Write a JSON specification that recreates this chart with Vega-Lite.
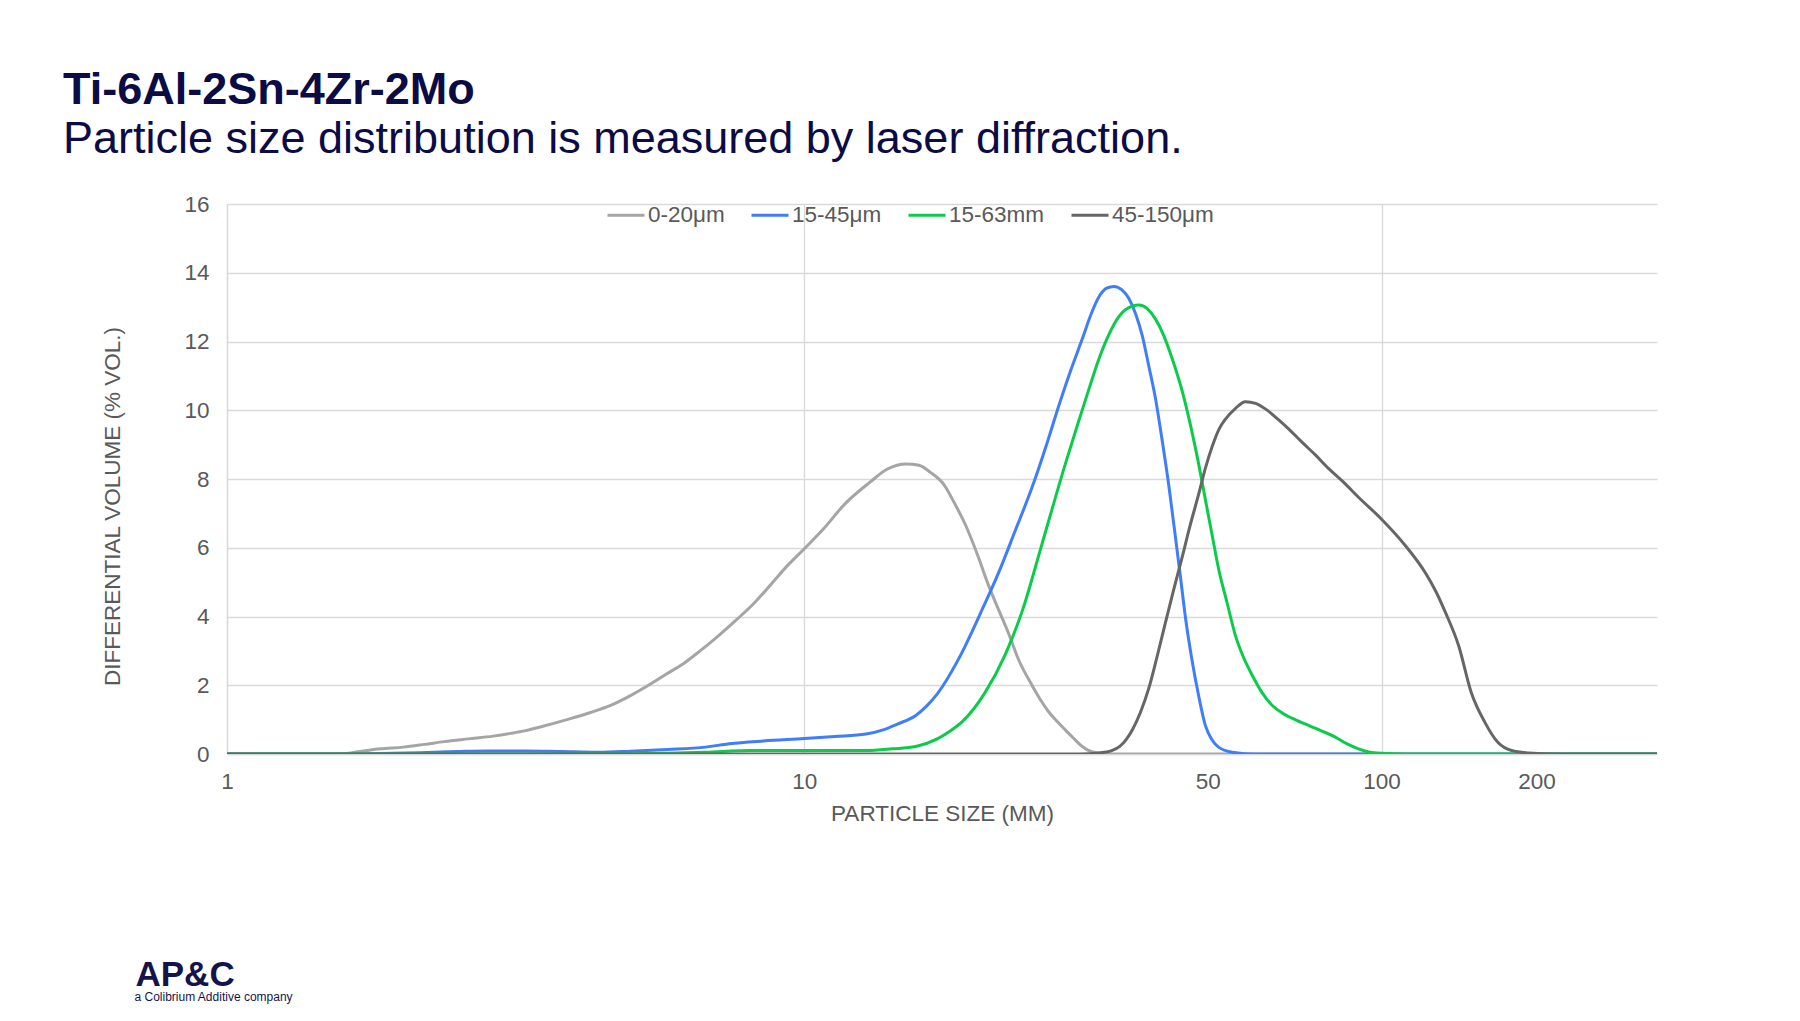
{
  "$schema": "https://vega.github.io/schema/vega-lite/v6.json",
  "autosize": {"type": "none"},
  "width": 1430,
  "height": 550,
  "padding": {"left": 227, "top": 204, "right": 143, "bottom": 267},
  "background": "white",
  "title": {
    "text": "Ti-6Al-2Sn-4Zr-2Mo",
    "subtitle": "Particle size distribution is measured by laser diffraction.",
    "anchor": "start",
    "frame": "group",
    "dx": -164,
    "offset": 31,
    "font": "Liberation Sans",
    "fontSize": 45,
    "fontWeight": "bold",
    "color": "#0B0B45",
    "subtitleFont": "Liberation Sans",
    "subtitleFontSize": 45,
    "subtitleFontWeight": "normal",
    "subtitleColor": "#0B0B45",
    "subtitlePadding": 4
  },
  "config": {
    "view": {"stroke": null},
    "font": "Liberation Sans",
    "axis": {
      "labelFont": "Liberation Sans",
      "titleFont": "Liberation Sans",
      "labelFontSize": 22.5,
      "titleFontSize": 22.5,
      "labelColor": "#595959",
      "titleColor": "#595959",
      "titleFontWeight": "normal",
      "gridColor": "#D9D9D9",
      "gridWidth": 1.3,
      "domainColor": "#D9D9D9",
      "domainWidth": 1.3,
      "ticks": false
    }
  },
  "data": {
    "values": [
      {"s": "0-20μm", "x": 1, "y": 0},
      {"s": "0-20μm", "x": 1.3, "y": 0},
      {"s": "0-20μm", "x": 1.55, "y": 0},
      {"s": "0-20μm", "x": 1.7, "y": 0.07},
      {"s": "0-20μm", "x": 1.84, "y": 0.15},
      {"s": "0-20μm", "x": 2.02, "y": 0.2},
      {"s": "0-20μm", "x": 2.2, "y": 0.28},
      {"s": "0-20μm", "x": 2.38, "y": 0.36},
      {"s": "0-20μm", "x": 2.62, "y": 0.44},
      {"s": "0-20μm", "x": 2.89, "y": 0.52},
      {"s": "0-20μm", "x": 3.1, "y": 0.6},
      {"s": "0-20μm", "x": 3.29, "y": 0.68},
      {"s": "0-20μm", "x": 3.55, "y": 0.82},
      {"s": "0-20μm", "x": 3.88, "y": 1.0},
      {"s": "0-20μm", "x": 4.25, "y": 1.2},
      {"s": "0-20μm", "x": 4.64, "y": 1.43},
      {"s": "0-20μm", "x": 5.0, "y": 1.7},
      {"s": "0-20μm", "x": 5.4, "y": 2.02},
      {"s": "0-20μm", "x": 5.8, "y": 2.35},
      {"s": "0-20μm", "x": 6.19, "y": 2.64},
      {"s": "0-20μm", "x": 6.6, "y": 3.0},
      {"s": "0-20μm", "x": 7.0, "y": 3.35},
      {"s": "0-20μm", "x": 7.66, "y": 3.93},
      {"s": "0-20μm", "x": 8.2, "y": 4.4},
      {"s": "0-20μm", "x": 8.7, "y": 4.88},
      {"s": "0-20μm", "x": 9.35, "y": 5.48},
      {"s": "0-20μm", "x": 10, "y": 5.97},
      {"s": "0-20μm", "x": 10.8, "y": 6.55},
      {"s": "0-20μm", "x": 11.75, "y": 7.27},
      {"s": "0-20μm", "x": 12.98, "y": 7.9},
      {"s": "0-20μm", "x": 13.93, "y": 8.29},
      {"s": "0-20μm", "x": 15.0, "y": 8.44},
      {"s": "0-20μm", "x": 15.8, "y": 8.4},
      {"s": "0-20μm", "x": 16.52, "y": 8.2},
      {"s": "0-20μm", "x": 17.5, "y": 7.81},
      {"s": "0-20μm", "x": 18.2, "y": 7.3},
      {"s": "0-20μm", "x": 19.05, "y": 6.64},
      {"s": "0-20μm", "x": 20.0, "y": 5.75},
      {"s": "0-20μm", "x": 20.75, "y": 5.0},
      {"s": "0-20μm", "x": 21.7, "y": 4.2},
      {"s": "0-20μm", "x": 22.6, "y": 3.5},
      {"s": "0-20μm", "x": 23.5, "y": 2.75},
      {"s": "0-20μm", "x": 24.8, "y": 2.0},
      {"s": "0-20μm", "x": 25.6, "y": 1.6},
      {"s": "0-20μm", "x": 26.5, "y": 1.23},
      {"s": "0-20μm", "x": 27.4, "y": 0.95},
      {"s": "0-20μm", "x": 28.4, "y": 0.68},
      {"s": "0-20μm", "x": 29.3, "y": 0.45},
      {"s": "0-20μm", "x": 30.3, "y": 0.22},
      {"s": "0-20μm", "x": 31.3, "y": 0.08},
      {"s": "0-20μm", "x": 32.4, "y": 0.03},
      {"s": "0-20μm", "x": 33.5, "y": 0},
      {"s": "0-20μm", "x": 40, "y": 0},
      {"s": "0-20μm", "x": 60, "y": 0},
      {"s": "0-20μm", "x": 100, "y": 0},
      {"s": "0-20μm", "x": 200, "y": 0},
      {"s": "0-20μm", "x": 300, "y": 0},

      {"s": "15-45μm", "x": 1, "y": 0},
      {"s": "15-45μm", "x": 1.5, "y": 0},
      {"s": "15-45μm", "x": 2.16, "y": 0.04},
      {"s": "15-45μm", "x": 2.5, "y": 0.07},
      {"s": "15-45μm", "x": 2.8, "y": 0.09},
      {"s": "15-45μm", "x": 3.3, "y": 0.09},
      {"s": "15-45μm", "x": 3.8, "y": 0.07},
      {"s": "15-45μm", "x": 4.4, "y": 0.05},
      {"s": "15-45μm", "x": 5.0, "y": 0.08},
      {"s": "15-45μm", "x": 5.8, "y": 0.13},
      {"s": "15-45μm", "x": 6.74, "y": 0.2},
      {"s": "15-45μm", "x": 7.43, "y": 0.3},
      {"s": "15-45μm", "x": 8.5, "y": 0.38},
      {"s": "15-45μm", "x": 10, "y": 0.45},
      {"s": "15-45μm", "x": 11.3, "y": 0.51},
      {"s": "15-45μm", "x": 12.79, "y": 0.58},
      {"s": "15-45μm", "x": 13.7, "y": 0.7},
      {"s": "15-45μm", "x": 14.5, "y": 0.87},
      {"s": "15-45μm", "x": 15.6, "y": 1.12},
      {"s": "15-45μm", "x": 16.3, "y": 1.4},
      {"s": "15-45μm", "x": 17.0, "y": 1.75},
      {"s": "15-45μm", "x": 18.5, "y": 2.76},
      {"s": "15-45μm", "x": 20.2, "y": 4.1},
      {"s": "15-45μm", "x": 21.8, "y": 5.35},
      {"s": "15-45μm", "x": 23.2, "y": 6.5},
      {"s": "15-45μm", "x": 24.8, "y": 7.75},
      {"s": "15-45μm", "x": 26.4, "y": 9.1},
      {"s": "15-45μm", "x": 27.6, "y": 10.13},
      {"s": "15-45μm", "x": 29.0, "y": 11.2},
      {"s": "15-45μm", "x": 30.3, "y": 12.07},
      {"s": "15-45μm", "x": 31.4, "y": 12.8},
      {"s": "15-45μm", "x": 32.4, "y": 13.3},
      {"s": "15-45μm", "x": 33.4, "y": 13.55},
      {"s": "15-45μm", "x": 34.4, "y": 13.6},
      {"s": "15-45μm", "x": 35.5, "y": 13.5},
      {"s": "15-45μm", "x": 36.5, "y": 13.25},
      {"s": "15-45μm", "x": 37.5, "y": 12.8},
      {"s": "15-45μm", "x": 38.5, "y": 12.17},
      {"s": "15-45μm", "x": 39.5, "y": 11.3},
      {"s": "15-45μm", "x": 40.6, "y": 10.33},
      {"s": "15-45μm", "x": 41.7, "y": 9.1},
      {"s": "15-45μm", "x": 42.8, "y": 7.81},
      {"s": "15-45μm", "x": 43.8, "y": 6.5},
      {"s": "15-45μm", "x": 44.8, "y": 5.2},
      {"s": "15-45μm", "x": 45.8, "y": 3.9},
      {"s": "15-45μm", "x": 46.9, "y": 2.78},
      {"s": "15-45μm", "x": 48.2, "y": 1.7},
      {"s": "15-45μm", "x": 49.5, "y": 0.84},
      {"s": "15-45μm", "x": 50.8, "y": 0.42},
      {"s": "15-45μm", "x": 52.2, "y": 0.2},
      {"s": "15-45μm", "x": 55.1, "y": 0.05},
      {"s": "15-45μm", "x": 58, "y": 0.01},
      {"s": "15-45μm", "x": 62, "y": 0},
      {"s": "15-45μm", "x": 100, "y": 0},
      {"s": "15-45μm", "x": 200, "y": 0},
      {"s": "15-45μm", "x": 300, "y": 0},

      {"s": "15-63mm", "x": 1, "y": 0},
      {"s": "15-63mm", "x": 3, "y": 0},
      {"s": "15-63mm", "x": 5, "y": 0.01},
      {"s": "15-63mm", "x": 6.74, "y": 0.05},
      {"s": "15-63mm", "x": 8.06, "y": 0.1},
      {"s": "15-63mm", "x": 10, "y": 0.1},
      {"s": "15-63mm", "x": 12.79, "y": 0.1},
      {"s": "15-63mm", "x": 14.2, "y": 0.15},
      {"s": "15-63mm", "x": 15.6, "y": 0.22},
      {"s": "15-63mm", "x": 17.0, "y": 0.44},
      {"s": "15-63mm", "x": 18.0, "y": 0.7},
      {"s": "15-63mm", "x": 18.8, "y": 0.95},
      {"s": "15-63mm", "x": 20.5, "y": 1.75},
      {"s": "15-63mm", "x": 22.3, "y": 2.9},
      {"s": "15-63mm", "x": 23.9, "y": 4.2},
      {"s": "15-63mm", "x": 25.8, "y": 6.1},
      {"s": "15-63mm", "x": 28.4, "y": 8.5},
      {"s": "15-63mm", "x": 29.9, "y": 9.7},
      {"s": "15-63mm", "x": 31.1, "y": 10.6},
      {"s": "15-63mm", "x": 32.4, "y": 11.5},
      {"s": "15-63mm", "x": 33.7, "y": 12.2},
      {"s": "15-63mm", "x": 35.0, "y": 12.7},
      {"s": "15-63mm", "x": 36.1, "y": 12.94},
      {"s": "15-63mm", "x": 38.0, "y": 13.06},
      {"s": "15-63mm", "x": 39.3, "y": 12.95},
      {"s": "15-63mm", "x": 40.6, "y": 12.65},
      {"s": "15-63mm", "x": 42.0, "y": 12.15},
      {"s": "15-63mm", "x": 43.4, "y": 11.49},
      {"s": "15-63mm", "x": 44.9, "y": 10.7},
      {"s": "15-63mm", "x": 46.4, "y": 9.75},
      {"s": "15-63mm", "x": 48.0, "y": 8.6},
      {"s": "15-63mm", "x": 49.5, "y": 7.42},
      {"s": "15-63mm", "x": 50.9, "y": 6.35},
      {"s": "15-63mm", "x": 52.2, "y": 5.39},
      {"s": "15-63mm", "x": 54.0, "y": 4.4},
      {"s": "15-63mm", "x": 55.8, "y": 3.46},
      {"s": "15-63mm", "x": 57.7, "y": 2.8},
      {"s": "15-63mm", "x": 59.7, "y": 2.29},
      {"s": "15-63mm", "x": 62.0, "y": 1.8},
      {"s": "15-63mm", "x": 64.6, "y": 1.42},
      {"s": "15-63mm", "x": 67.5, "y": 1.18},
      {"s": "15-63mm", "x": 70.8, "y": 1.0},
      {"s": "15-63mm", "x": 75, "y": 0.82},
      {"s": "15-63mm", "x": 79, "y": 0.66},
      {"s": "15-63mm", "x": 83.0, "y": 0.5},
      {"s": "15-63mm", "x": 87, "y": 0.3},
      {"s": "15-63mm", "x": 91.2, "y": 0.15},
      {"s": "15-63mm", "x": 95, "y": 0.06},
      {"s": "15-63mm", "x": 100, "y": 0.02},
      {"s": "15-63mm", "x": 110, "y": 0},
      {"s": "15-63mm", "x": 200, "y": 0},
      {"s": "15-63mm", "x": 300, "y": 0},

      {"s": "45-150μm", "x": 1, "y": 0},
      {"s": "45-150μm", "x": 10, "y": 0},
      {"s": "45-150μm", "x": 25, "y": 0},
      {"s": "45-150μm", "x": 30, "y": 0},
      {"s": "45-150μm", "x": 32.4, "y": 0.03},
      {"s": "45-150μm", "x": 34, "y": 0.09},
      {"s": "45-150μm", "x": 35.2, "y": 0.22},
      {"s": "45-150μm", "x": 36.1, "y": 0.42},
      {"s": "45-150μm", "x": 37.0, "y": 0.7},
      {"s": "45-150μm", "x": 38.2, "y": 1.2},
      {"s": "45-150μm", "x": 39.5, "y": 1.9},
      {"s": "45-150μm", "x": 40.8, "y": 2.8},
      {"s": "45-150μm", "x": 42.2, "y": 3.8},
      {"s": "45-150μm", "x": 43.6, "y": 4.75},
      {"s": "45-150μm", "x": 45.1, "y": 5.7},
      {"s": "45-150μm", "x": 46.6, "y": 6.65},
      {"s": "45-150μm", "x": 48.2, "y": 7.55},
      {"s": "45-150μm", "x": 49.5, "y": 8.3},
      {"s": "45-150μm", "x": 50.9, "y": 8.95},
      {"s": "45-150μm", "x": 52.3, "y": 9.45},
      {"s": "45-150μm", "x": 53.7, "y": 9.75},
      {"s": "45-150μm", "x": 55.8, "y": 10.05},
      {"s": "45-150μm", "x": 58.1, "y": 10.25},
      {"s": "45-150μm", "x": 60.5, "y": 10.2},
      {"s": "45-150μm", "x": 62.9, "y": 10.04},
      {"s": "45-150μm", "x": 65.5, "y": 9.8},
      {"s": "45-150μm", "x": 69.0, "y": 9.46},
      {"s": "45-150μm", "x": 72.5, "y": 9.1},
      {"s": "45-150μm", "x": 76.8, "y": 8.7},
      {"s": "45-150μm", "x": 81, "y": 8.3},
      {"s": "45-150μm", "x": 86, "y": 7.9},
      {"s": "45-150μm", "x": 91.2, "y": 7.47},
      {"s": "45-150μm", "x": 100, "y": 6.83},
      {"s": "45-150μm", "x": 110, "y": 6.06},
      {"s": "45-150μm", "x": 119, "y": 5.28},
      {"s": "45-150μm", "x": 124, "y": 4.75},
      {"s": "45-150μm", "x": 129, "y": 4.12},
      {"s": "45-150μm", "x": 136, "y": 3.15},
      {"s": "45-150μm", "x": 143, "y": 1.79},
      {"s": "45-150μm", "x": 151, "y": 0.92},
      {"s": "45-150μm", "x": 159, "y": 0.34},
      {"s": "45-150μm", "x": 168, "y": 0.1},
      {"s": "45-150μm", "x": 180, "y": 0.03},
      {"s": "45-150μm", "x": 200, "y": 0},
      {"s": "45-150μm", "x": 300, "y": 0}
    ]
  },
  "layer": [
    {
      "mark": {"type": "line", "interpolate": "monotone", "strokeWidth": 3, "strokeJoin": "round", "strokeCap": "round", "clip": true},
      "encoding": {
        "x": {
          "field": "x",
          "type": "quantitative",
          "scale": {"type": "log", "domain": [1, 300], "nice": false},
          "axis": {
            "title": "PARTICLE SIZE (MM)",
            "values": [1, 10, 50, 100, 200],
            "format": "d",
            "labelFlush": false,
            "labelPadding": 16,
            "titlePadding": 10,
            "labelAlign": {"condition": {"test": "datum.value == 200", "value": "right"}, "value": "center"},
            "gridOpacity": {"condition": {"test": "datum.value == 50 || datum.value == 200", "value": 0}, "value": 1}
          }
        },
        "y": {
          "field": "y",
          "type": "quantitative",
          "scale": {"domain": [0, 16], "nice": false},
          "axis": {
            "title": "DIFFERENTIAL VOLUME (% VOL.)",
            "values": [0, 2, 4, 6, 8, 10, 12, 14, 16],
            "labelPadding": 18,
            "titleX": -115,
            "titleY": 302,
            "titleAngle": 270,
            "titleAlign": "center",
            "titleBaseline": "middle"
          }
        },
        "color": {
          "field": "s",
          "type": "nominal",
          "sort": ["0-20μm", "15-45μm", "15-63mm", "45-150μm"],
          "scale": {
            "domain": ["0-20μm", "15-45μm", "15-63mm", "45-150μm"],
            "range": ["#A5A5A5", "#3F7EF8", "#0CCB4B", "#666666"]
          },
          "legend": {
            "title": null,
            "orient": "none",
            "legendX": 379,
            "legendY": -9,
            "direction": "horizontal",
            "symbolType": "stroke",
            "symbolSize": 1369,
            "symbolStrokeWidth": 3,
            "labelFont": "Liberation Sans",
            "labelFontSize": 22.5,
            "labelColor": "#595959",
            "labelOffset": 2,
            "columnPadding": 20
          }
        }
      }
    },
    {
      "mark": {"type": "point", "opacity": 0, "size": 0},
      "encoding": {
        "x": {
          "field": "x",
          "type": "quantitative",
          "scale": {"type": "log", "domain": [1, 300], "nice": false},
          "axis": {
            "orient": "top",
            "labels": false,
            "ticks": false,
            "domain": false,
            "grid": false,
            "title": "AP&C",
            "titleFont": "Liberation Sans",
            "titleFontSize": 35,
            "titleFontWeight": "bold",
            "titleColor": "#14144B",
            "titleX": -92,
            "titleY": 781,
            "titleAlign": "left",
            "titleBaseline": "alphabetic",
            "titleAngle": 0
          }
        },
        "y": {
          "field": "y",
          "type": "quantitative",
          "scale": {"domain": [0, 16], "nice": false},
          "axis": {
            "orient": "right",
            "labels": false,
            "ticks": false,
            "domain": false,
            "grid": false,
            "title": "a Colibrium Additive company",
            "titleFont": "Liberation Sans",
            "titleFontSize": 12,
            "titleFontWeight": "normal",
            "titleColor": "#14144B",
            "titleX": -1523,
            "titleY": 796,
            "titleAngle": 0,
            "titleAlign": "left",
            "titleBaseline": "alphabetic"
          }
        }
      }
    }
  ],
  "resolve": {
    "scale": {"x": "independent", "y": "independent"},
    "axis": {"x": "independent", "y": "independent"}
  }
}
